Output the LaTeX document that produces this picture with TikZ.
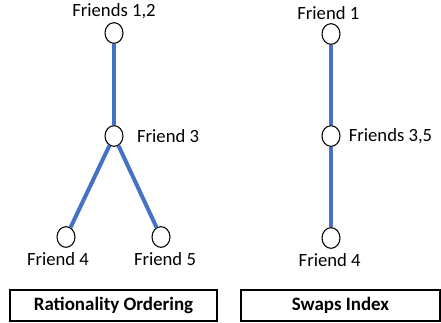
\documentclass[tikz,border=0pt]{standalone}
\usepackage{fontspec}
\setmainfont{Carlito}
\usetikzlibrary{positioning,shapes.geometric}
\definecolor{tieblue}{RGB}{68,114,196}

\begin{document}
\begin{tikzpicture}[x=0.75pt,y=-0.75pt,
    friend/.style={draw,ellipse,fill=white,line width=0.8pt,inner sep=0pt,
      minimum width=13.5pt,minimum height=15.5pt},
    tie/.style={tieblue,line width=3pt},
    lbl/.style={font=\fontsize{14}{16}\selectfont,inner sep=1pt},
    title/.style={draw,line width=0.9pt,font=\fontsize{14.2}{16}\selectfont\bfseries,
      minimum height=23.25pt,inner sep=0pt}]
  \useasboundingbox (0,0) rectangle (441,322);
  % ------ rationality ordering -----------------------------
  \node[friend] (f12) at (114,33) {};
  \node[friend] (f3) at (114,136) {};
  \node[friend] (f4) at (66,237) {};
  \node[friend] (f5) at (161,237) {};
  \draw[tie] (f12) -- (f3);
  \draw[tie] (f3) -- (f4);
  \draw[tie] (f3) -- (f5);
  \node[lbl,above=1.5pt of f12] (l12) {Friends 1,2};
  \node[lbl,right=9pt of f3] (l3) {Friend 3};
  \node[lbl,below=2.5pt of f4,xshift=-6pt] (l4) {Friend 4};
  \node[lbl,below=2.5pt of f5,xshift=3pt] (l5) {Friend 5};
  \node[title,minimum width=155.25pt] (ro) at (113.5,305.5) {Rationality Ordering};
  % ------ swaps index -----------------------------
  \node[friend] (g1) at (331,34) {};
  \node[friend] (g35) at (331,136) {};
  \node[friend] (g4) at (331,238) {};
  \draw[tie] (g1) -- (g35);
  \draw[tie] (g35) -- (g4);
  \node[lbl,above=1.5pt of g1,xshift=-2pt] (m1) {Friend 1};
  \node[lbl,right=5pt of g35] (m35) {Friends 3,5};
  \node[lbl,below=2.5pt of g4,xshift=-1pt] (m4) {Friend 4};
  \node[title,minimum width=149.25pt] (si) at (340.5,305.5) {Swaps Index};
\end{tikzpicture}
\end{document}
